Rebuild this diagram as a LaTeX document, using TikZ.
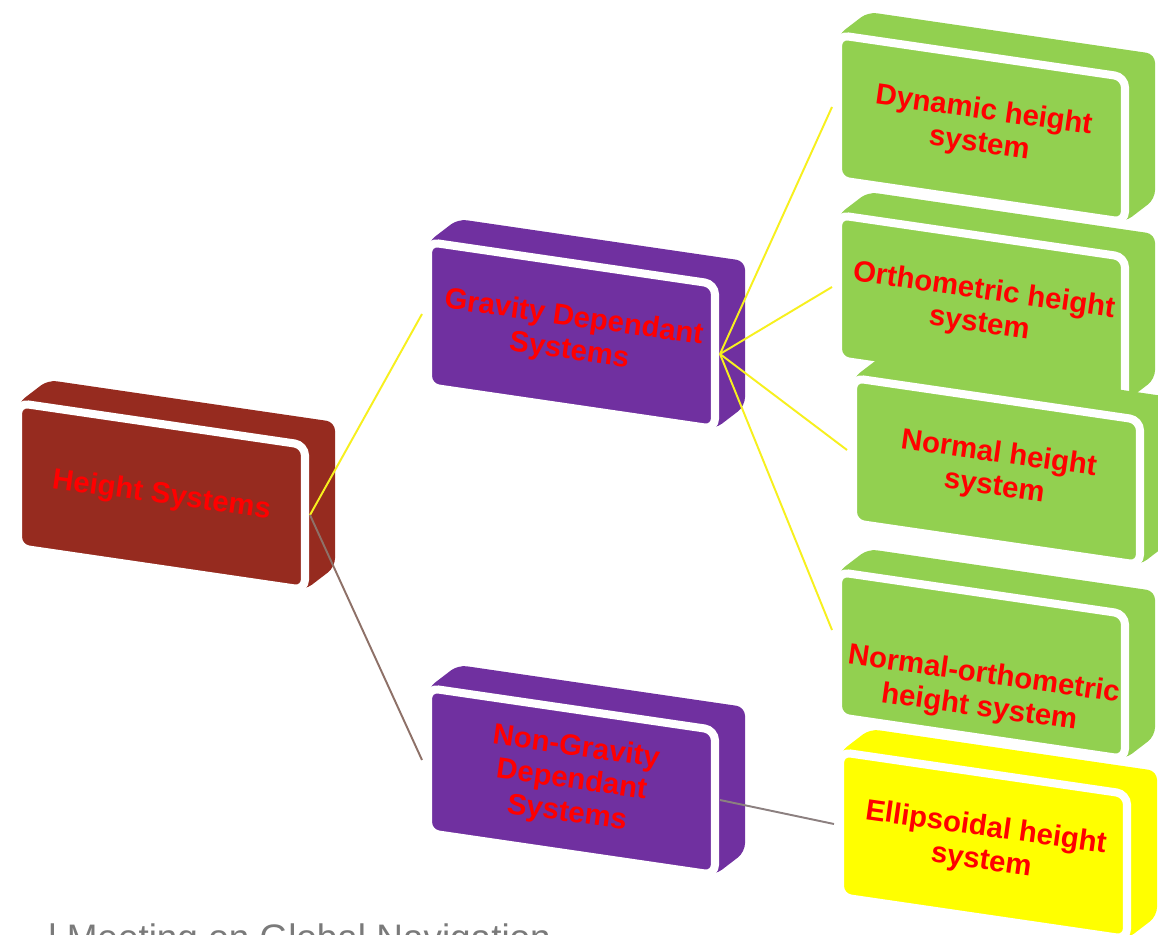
\documentclass[tikz,border=0pt]{standalone}
\usepackage{fontspec}
\setmainfont{Liberation Sans}
\usetikzlibrary{calc}

\definecolor{rootred}{HTML}{962B1F}
\definecolor{midpurple}{HTML}{7030A0}
\definecolor{leafgreen}{HTML}{92D050}
\definecolor{leafyellow}{HTML}{FFFF00}
\definecolor{linkyellow}{HTML}{F7F01E}
\definecolor{linkbrown}{HTML}{8E7168}
\definecolor{linkgrey}{HTML}{8C8080}
\definecolor{footgrey}{HTML}{7A7A7A}

\tikzset{
  slabtext/.style={text=red, align=center, inner sep=0pt, rotate=-8,
    font=\bfseries\fontsize{16.7}{18.9}\selectfont},
  slabback/.style={fill=#1, rounded corners=5pt},
  slabface/.style={fill=#1, draw=white, line width=4.6pt, rounded corners=6pt},
  yellowlink/.style={draw=linkyellow, line width=1.1pt},
  brownlink/.style={draw=linkbrown, line width=1.1pt},
  greylink/.style={draw=linkgrey, line width=1.1pt}
}

% A slanted 3-D slab: #1 name, #2/#3 top-left of the front face,
% #4 colour, #5 label, #6 vertical shift of the label
\newcommand\slab[6]{%
  \coordinate (#1-tl) at (#2,#3);
  \coordinate (#1-tr) at ($(#1-tl)+(287,42)$);
  \coordinate (#1-br) at ($(#1-tl)+(287,187)$);
  \coordinate (#1-bl) at ($(#1-tl)+(0,145)$);
  \coordinate (#1-w) at ($(#1-tl)+(-6,72)$);
  \coordinate (#1-e) at ($(#1-tl)+(292,112)$);
  \path[slabback=#4] (#1-tl) -- ($(#1-tl)+(30,-23)$) -- ($(#1-tr)+(30,-23)$)
     -- ($(#1-br)+(30,-23)$) -- (#1-br) -- (#1-bl) -- cycle;
  \path[slabface=#4] (#1-tl) -- (#1-tr) -- (#1-br) -- (#1-bl) -- cycle;
  \node[slabtext] (#1) at ($(#1-tl)+(143.5,93+#6)$) {#5};
}

\begin{document}
\begin{tikzpicture}[x=0.02cm, y=-0.02cm]
  \useasboundingbox (0,0) rectangle (1158,935);
  \clip (0,0) rectangle (1158,935);
  \fill[white] (0,0) rectangle (1158,935);

  % root, branches and leaves
  \slab{hs}{18}{403}{rootred}{Height Systems}{0}
  \slab{gd}{428}{242}{midpurple}{Gravity Dependant\\Systems}{0}
  \slab{ngd}{428}{688}{midpurple}{Non-Gravity\\Dependant\\Systems}{0}
  \slab{dyn}{838}{35}{leafgreen}{Dynamic height\\system}{0}
  \slab{orth}{838}{215}{leafgreen}{Orthometric height\\system}{0}
  \slab{norm}{853}{378}{leafgreen}{Normal height\\system}{0}
  \slab{nort}{838}{572}{leafgreen}{Normal-orthometric\\height system}{27}
  \slab{ell}{840}{752}{leafyellow}{Ellipsoidal height\\system}{0}

  % connectors
  \draw[yellowlink] (hs-e) -- (gd-w);
  \draw[brownlink] (hs-e) -- (ngd-w);
  \draw[yellowlink] (gd-e) -- (dyn-w);
  \draw[yellowlink] (gd-e) -- (orth-w);
  \draw[yellowlink] (gd-e) -- (norm-w);
  \draw[yellowlink] (gd-e) -- ($(nort-w)+(0,-14)$);
  \draw[greylink] (ngd-e) -- (ell-w);

  % footer line, cut by the lower edge
  \node[anchor=base west, text=footgrey, inner sep=0pt,
        font=\fontsize{21}{24}\selectfont] (foot) at (48,950)
        {l Meeting on Global Navigation};
\end{tikzpicture}
\end{document}
